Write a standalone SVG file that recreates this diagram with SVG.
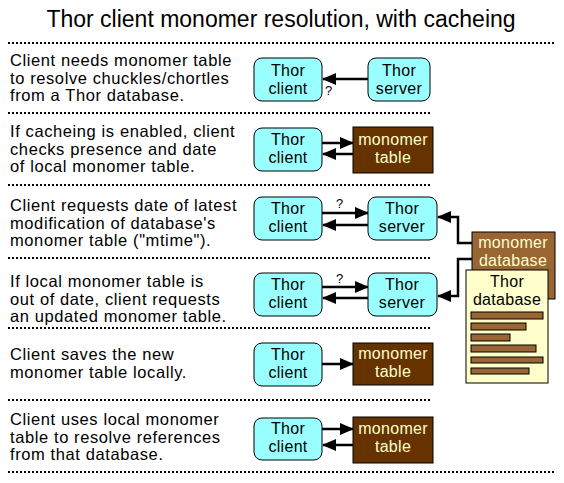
<svg xmlns="http://www.w3.org/2000/svg" width="564" height="483" viewBox="0 0 564 483">
<style>
text{font-family:"Liberation Sans",Arial,sans-serif}
.title{font-size:23px;text-anchor:middle}
.desc{font-size:16.5px;letter-spacing:0.6px}
.nl{font-size:16px;letter-spacing:0.3px;text-anchor:middle;fill:#000}
.tl{font-size:16px;letter-spacing:0.3px;text-anchor:middle;fill:#ffffcc}
.q{font-size:13px;fill:#000}
.sep{stroke:#000;stroke-width:2;stroke-dasharray:2 2;fill:none}
.cyan{fill:#99ffff;stroke:#000;stroke-width:1}
.brown{fill:#663300;stroke:#000;stroke-width:1}
.conn{stroke:#000;stroke-width:2.5;fill:none;marker-end:url(#ah)}
</style>
<defs>
<marker id="ah" viewBox="0 0 14 12" refX="13" refY="6" markerWidth="14" markerHeight="12" markerUnits="userSpaceOnUse" orient="auto">
<path d="M0,0 L14,6 L0,12 Z" fill="#000"/>
</marker>
</defs>
<rect width="564" height="483" fill="#fff"/>
<text class="title" x="281" y="27">Thor client monomer resolution, with cacheing</text>
<g id="separators">
<line class="sep" x1="8" y1="43" x2="556" y2="43"/>
<line class="sep" x1="8" y1="113" x2="432" y2="113"/>
<line class="sep" x1="8" y1="185" x2="432" y2="185"/>
<line class="sep" x1="8" y1="258" x2="432" y2="258"/>
<line class="sep" x1="8" y1="328" x2="432" y2="328"/>
<line class="sep" x1="8" y1="400" x2="432" y2="400"/>
<line class="sep" x1="8" y1="472" x2="556" y2="472"/>
</g>
<g id="descriptions" class="desc">
<text x="10" y="66">Client needs monomer table</text>
<text x="10" y="84">to resolve chuckles/chortles</text>
<text x="10" y="101">from a Thor database.</text>
<text x="10" y="137">If cacheing is enabled, client</text>
<text x="10" y="155">checks presence and date</text>
<text x="10" y="172">of local monomer table.</text>
<text x="10" y="211">Client requests date of latest</text>
<text x="10" y="229">modification of database's</text>
<text x="10" y="246">monomer table ("mtime").</text>
<text x="10" y="287">If local monomer table is</text>
<text x="10" y="305">out of date, client requests</text>
<text x="10" y="322">an updated monomer table.</text>
<text x="10" y="360">Client saves the new</text>
<text x="10" y="378">monomer table locally.</text>
<text x="10" y="425">Client uses local monomer</text>
<text x="10" y="443">table to resolve references</text>
<text x="10" y="460">from that database.</text>
</g>
<g id="connectors">
<line class="conn" x1="368" y1="79" x2="323" y2="79"/>
<line class="conn" x1="322" y1="143" x2="353" y2="143"/>
<line class="conn" x1="353" y1="154" x2="323" y2="154"/>
<line class="conn" x1="322" y1="213" x2="368" y2="213"/>
<line class="conn" x1="368" y1="225" x2="323" y2="225"/>
<line class="conn" x1="322" y1="287" x2="368" y2="287"/>
<line class="conn" x1="368" y1="298" x2="323" y2="298"/>
<line class="conn" x1="322" y1="364" x2="353" y2="364"/>
<line class="conn" x1="322" y1="429" x2="353" y2="429"/>
<line class="conn" x1="353" y1="445" x2="323" y2="445"/>
<polyline class="conn" points="472,243 458,243 458,217 438,217"/>
<polyline class="conn" points="472,259 458,259 458,296 438,296"/>
<text class="q" x="325" y="95">?</text>
<text class="q" x="336" y="208">?</text>
<text class="q" x="336" y="283">?</text>
</g>
<g id="client1"><rect class="cyan" x="254" y="58" width="68" height="43" rx="8"/><text class="nl" x="288" y="76">Thor</text><text class="nl" x="288" y="94">client</text></g>
<g id="server1"><rect class="cyan" x="368" y="58" width="62" height="43" rx="8"/><text class="nl" x="399" y="76">Thor</text><text class="nl" x="399" y="94">server</text></g>
<g id="client2"><rect class="cyan" x="254" y="128" width="68" height="43" rx="8"/><text class="nl" x="288" y="145">Thor</text><text class="nl" x="288" y="163">client</text></g>
<g id="table2"><rect class="brown" x="353" y="127" width="80" height="46"/><text class="tl" x="393" y="145">monomer</text><text class="tl" x="393" y="163">table</text></g>
<g id="client3"><rect class="cyan" x="254" y="197" width="68" height="43" rx="8"/><text class="nl" x="288" y="214">Thor</text><text class="nl" x="288" y="232">client</text></g>
<g id="server3"><rect class="cyan" x="368" y="197" width="69" height="43" rx="8"/><text class="nl" x="402" y="214">Thor</text><text class="nl" x="402" y="232">server</text></g>
<g id="client4"><rect class="cyan" x="254" y="273" width="68" height="43" rx="8"/><text class="nl" x="288" y="290">Thor</text><text class="nl" x="288" y="308">client</text></g>
<g id="server4"><rect class="cyan" x="368" y="273" width="69" height="43" rx="8"/><text class="nl" x="402" y="290">Thor</text><text class="nl" x="402" y="308">server</text></g>
<g id="client5"><rect class="cyan" x="254" y="343" width="68" height="43" rx="8"/><text class="nl" x="288" y="360">Thor</text><text class="nl" x="288" y="378">client</text></g>
<g id="table5"><rect class="brown" x="353" y="343" width="80" height="42"/><text class="tl" x="393" y="359">monomer</text><text class="tl" x="393" y="377">table</text></g>
<g id="client6"><rect class="cyan" x="254" y="418" width="68" height="42" rx="8"/><text class="nl" x="288" y="434">Thor</text><text class="nl" x="288" y="452">client</text></g>
<g id="table6"><rect class="brown" x="353" y="417" width="80" height="46"/><text class="tl" x="393" y="434">monomer</text><text class="tl" x="393" y="452">table</text></g>
<g id="monomer-database"><rect x="472" y="232" width="83" height="67" fill="#996633" stroke="#000" stroke-width="1"/><text class="tl" x="513" y="248">monomer</text><text class="tl" x="513" y="266">database</text></g>
<g id="thor-database">
<rect x="466" y="270" width="82" height="113" fill="#ffffcc" stroke="#000" stroke-width="1"/>
<text class="nl" x="507" y="287">Thor</text><text class="nl" x="507" y="305">database</text>
<g fill="#996633" stroke="#000" stroke-width="1">
<rect x="471" y="312" width="72" height="7"/>
<rect x="471" y="323" width="55" height="7"/>
<rect x="471" y="334" width="39" height="7"/>
<rect x="471" y="345" width="65" height="7"/>
<rect x="471" y="357" width="72" height="6"/>
<rect x="471" y="368" width="58" height="6"/>
</g>
</g>
</svg>
